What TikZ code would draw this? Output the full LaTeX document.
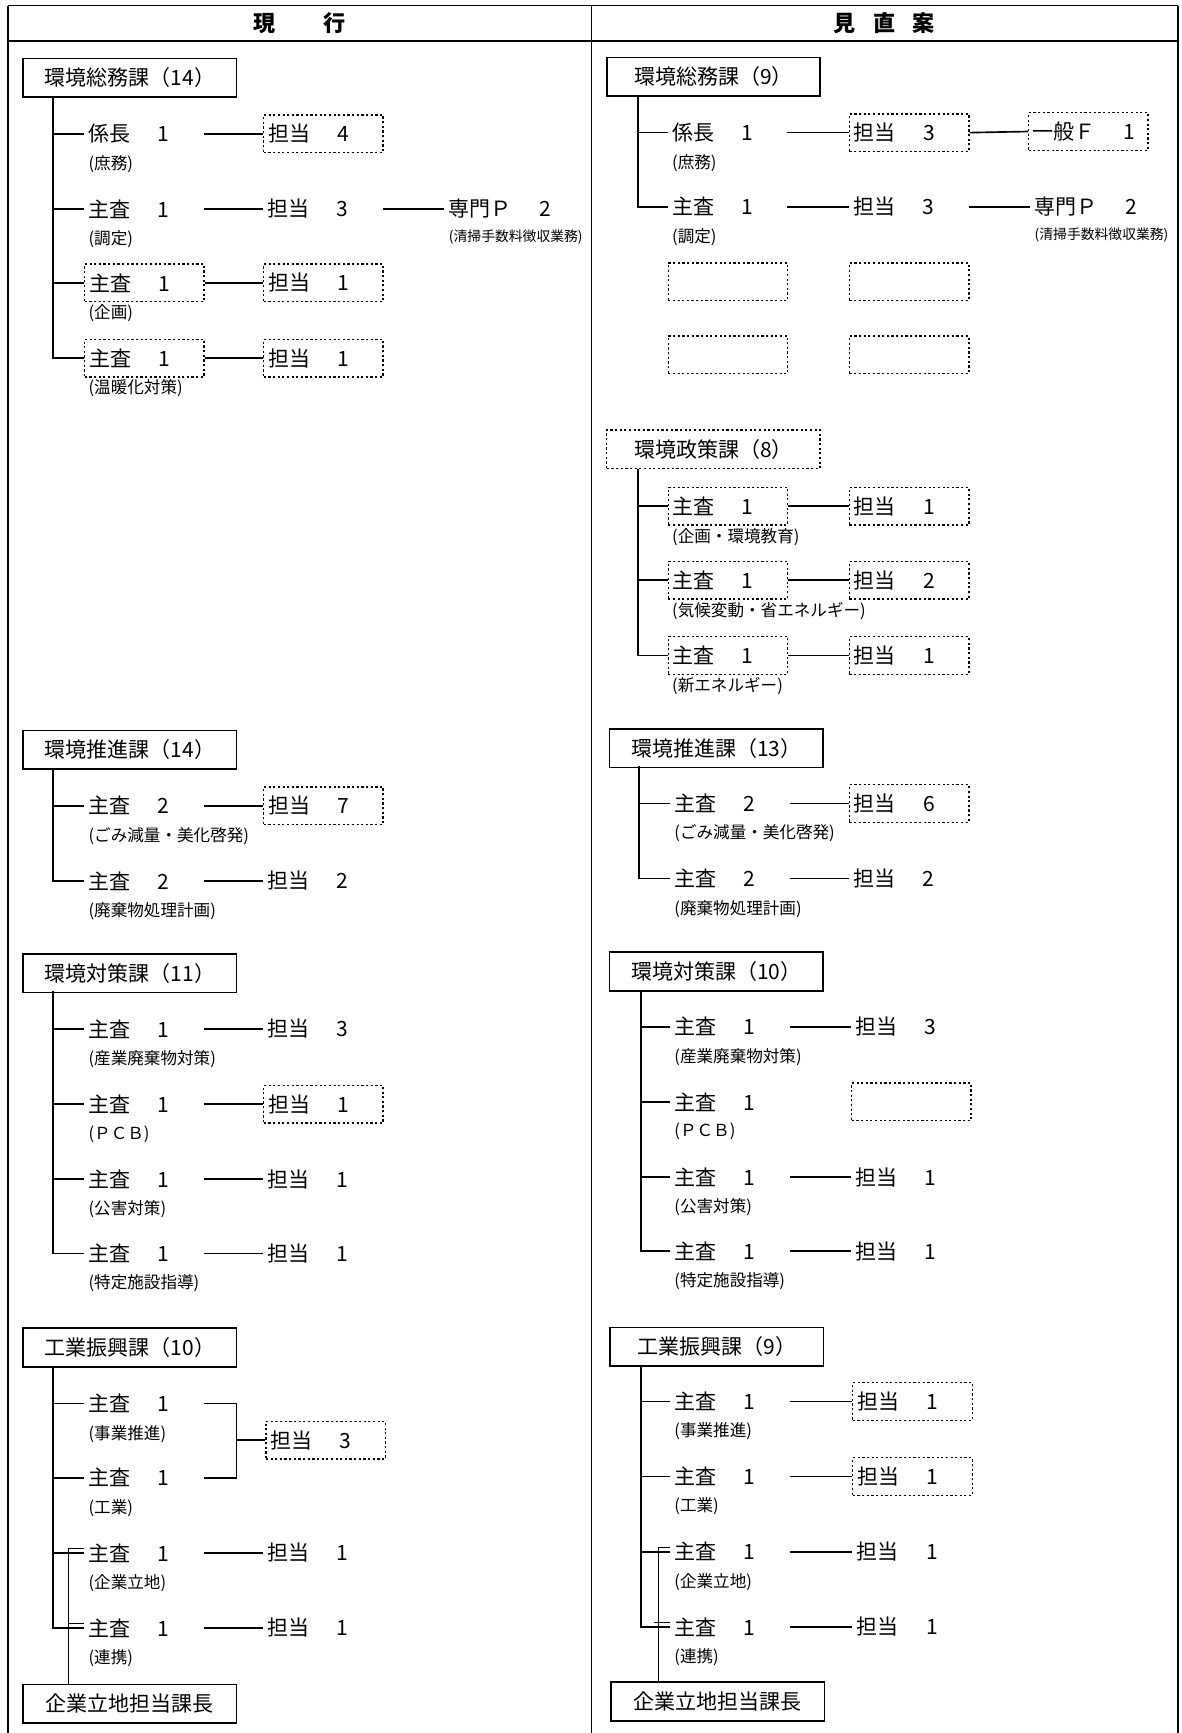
\documentclass[tikz,border=0pt]{standalone}
\usepackage{fontspec}
\setmainfont{Noto Sans CJK JP}
\newcommand\fsmain{\fontsize{19}{22}\selectfont}
\newcommand\fsnote{\fontsize{15}{17}\selectfont}
\newcommand\fstiny{\fontsize{12.5}{14}\selectfont}
\newcommand\pn[2]{#1\hspace{1.3em}#2}
\tikzset{
  ka/.style={draw, line width=1.6pt, minimum width=193pt, minimum height=35pt, inner sep=0pt, font=\fsmain},
  post/.style={anchor=west, text width=100pt, inner xsep=4pt, inner ysep=0pt, minimum height=34pt, align=left, font=\fsmain},
  dbox/.style={draw, line width=1.2pt, dash pattern=on 2pt off 2.2pt},
  note/.style={anchor=north west, inner xsep=4pt, inner ysep=2pt, font=\fsnote},
  ln/.style={line width=1.5pt},
  sub/.style={line width=0.8pt},
}
\begin{document}
\begin{tikzpicture}[x=1pt,y=-1pt]
\useasboundingbox (0,0) rectangle (1069,1568);
%枠と見出し
\draw[line width=1.4pt] (7,5) -- (1066,5);
\draw[line width=1.4pt] (7,37) -- (1066,37);
\draw[line width=1.4pt] (7,5) -- (7,1568);
\draw[line width=1.4pt] (535,5) -- (535,1568);
\draw[line width=1.4pt] (1066,5) -- (1066,1568);
\node[font=\fontsize{20}{22}\selectfont\bfseries] (h1) at (271,21) {現\hspace{2.2em}行};
\node[font=\fontsize{20}{22}\selectfont\bfseries] (h2) at (800,21) {見\hspace{0.8em}直\hspace{0.8em}案};

%現行：環境総務課
\node[ka] (L1) at (117.5,70.5) {環境総務課（14）};
\node[post] (L11) at (76,121) {\pn{係長}{1}};
\node[note] at (L11.south west) {(庶務)};
\node[post,dbox] (L1t1) at (238,121) {\pn{担当}{4}};
\node[post] (L12) at (76,189) {\pn{主査}{1}};
\node[note] at (L12.south west) {(調定)};
\node[post] (L1t2) at (238,189) {\pn{担当}{3}};
\node[post] (L1p) at (402,189) {\pn{専門Ｐ}{2}};
\node[note,font=\fstiny] at (L1p.south west) {(清掃手数料徴収業務)};
\node[post,dbox] (L13) at (76,256) {\pn{主査}{1}};
\node[note] at (L13.south west) {(企画)};
\node[post,dbox] (L1t3) at (238,256) {\pn{担当}{1}};
\node[post,dbox] (L14) at (76,324) {\pn{主査}{1}};
\node[note] at (L14.south west) {(温暖化対策)};
\node[post,dbox] (L1t4) at (238,324) {\pn{担当}{1}};
\coordinate (L1r) at (48,88);
\draw[ln] (L1r) |- (L14.west);
\foreach \n in {1,2,3} \draw[ln] (L1r |- L1\n.west) -- (L1\n.west);
\foreach \n in {1,2,3,4} \draw[ln] (L1\n.east) -- (L1t\n.west);
\draw[ln] (L1t2.east) -- (L1p.west);

%現行：環境推進課
\node[ka] (L2) at (117.5,678.5) {環境推進課（14）};
\node[post] (L21) at (76,729) {\pn{主査}{2}};
\node[note] at (L21.south west) {(ごみ減量・美化啓発)};
\node[post,dbox] (L2t1) at (238,729) {\pn{担当}{7}};
\node[post] (L22) at (76,797) {\pn{主査}{2}};
\node[note] at (L22.south west) {(廃棄物処理計画)};
\node[post] (L2t2) at (238,797) {\pn{担当}{2}};
\coordinate (L2r) at (48,695);
\draw[ln] (L2r) |- (L22.west);
\draw[ln] (L2r |- L21.west) -- (L21.west);
\foreach \n in {1,2} \draw[ln] (L2\n.east) -- (L2t\n.west);

%現行：環境対策課
\node[ka] (L3) at (117.5,880.5) {環境対策課（11）};
\foreach \n/\y/\nt/\c/\st in {1/931/産業廃棄物対策/3/, 2/999/ＰＣＢ/1/dbox, 3/1067/公害対策/1/, 4/1134/特定施設指導/1/} {
  \node[post] (L3\n) at (76,\y) {\pn{主査}{1}};
  \node[note] at (L3\n.south west) {(\nt)};
  \node[post,\st] (L3t\n) at (238,\y) {\pn{担当}{\c}};
  \draw[ln] (L3\n.east) -- (L3t\n.west);
}
\coordinate (L3r) at (48,897);
\draw[ln] (L3r) |- (L34.west);
\foreach \n in {1,2,3} \draw[ln] (L3r |- L3\n.west) -- (L3\n.west);

%現行：工業振興課
\node[ka] (L4) at (117.5,1219) {工業振興課（10）};
\node[post] (L41) at (76,1270) {\pn{主査}{1}};
\node[note] at (L41.south west) {(事業推進)};
\node[post] (L42) at (76,1337) {\pn{主査}{1}};
\node[note] at (L42.south west) {(工業)};
\node[post] (L43) at (76,1405) {\pn{主査}{1}};
\node[note] at (L43.south west) {(企業立地)};
\node[post] (L44) at (76,1473) {\pn{主査}{1}};
\node[note] at (L44.south west) {(連携)};
\node[post,dbox] (L4t1) at (240,1303) {\pn{担当}{3}};
\node[post] (L4t3) at (238,1405) {\pn{担当}{1}};
\node[post] (L4t4) at (238,1473) {\pn{担当}{1}};
\node[ka] (L4k) at (117.5,1541.5) {企業立地担当課長};
\coordinate (L4r) at (48,1236);
\coordinate (L4b) at (214,1303);
\coordinate (L4s) at (62,1524);
\draw[ln] (L4r) |- (L44.west);
\foreach \n in {1,2,3} \draw[ln] (L4r |- L4\n.west) -- (L4\n.west);
\draw[ln] (L41.east) -| (L4b) |- (L42.east);
\draw[ln] (L4b) -- (L4t1.west);
\foreach \n in {3,4} \draw[ln] (L4\n.east) -- (L4t\n.west);
\draw[sub] ([yshift=4pt]L43.west) -| (L4s);
\draw[sub] ([yshift=4pt]L44.west) -- ++(-14,0);

%見直案：環境総務課
\node[ka] (R1) at (645.5,69.5) {環境総務課（9）};
\node[post] (R11) at (604,120) {\pn{係長}{1}};
\node[note] at (R11.south west) {(庶務)};
\node[post,dbox] (R1t1) at (768,120) {\pn{担当}{3}};
\node[post,dbox] (R1f) at (930,119) {\pn{一般Ｆ}{1}};
\node[post] (R12) at (604,187) {\pn{主査}{1}};
\node[note] at (R12.south west) {(調定)};
\node[post] (R1t2) at (768,187) {\pn{担当}{3}};
\node[post] (R1p) at (932,187) {\pn{専門Ｐ}{2}};
\node[note,font=\fstiny] at (R1p.south west) {(清掃手数料徴収業務)};
\foreach \nm/\x/\y in {a/604/255, b/768/255, c/604/321, d/768/321}
  \node[post,dbox] (R1\nm) at (\x,\y) {};
\coordinate (R1r) at (577,86);
\draw[ln] (R1r) |- (R12.west);
\draw[ln] (R1r |- R11.west) -- (R11.west);
\foreach \n in {1,2} \draw[ln] (R1\n.east) -- (R1t\n.west);
\draw[ln] (R1t1.east) -- (R1f.west);
\draw[ln] (R1t2.east) -- (R1p.west);

%見直案：環境政策課
\node[ka,dbox] (R2) at (645.5,406.5) {環境政策課（8）};
\foreach \n/\y/\nt/\c in {1/458/企画・環境教育/1, 2/525/気候変動・省エネルギー/2, 3/593/新エネルギー/1} {
  \node[post,dbox] (R2\n) at (604,\y) {\pn{主査}{1}};
  \node[note] at (R2\n.south west) {(\nt)};
  \node[post,dbox] (R2t\n) at (768,\y) {\pn{担当}{\c}};
  \draw[ln] (R2\n.east) -- (R2t\n.west);
}
\coordinate (R2r) at (577,424);
\draw[ln] (R2r) |- (R23.west);
\foreach \n in {1,2} \draw[ln] (R2r |- R2\n.west) -- (R2\n.west);

%見直案：環境推進課
\node[ka] (R3) at (648,677) {環境推進課（13）};
\node[post] (R31) at (606,727) {\pn{主査}{2}};
\node[note] at (R31.south west) {(ごみ減量・美化啓発)};
\node[post,dbox] (R3t1) at (768,727) {\pn{担当}{6}};
\node[post] (R32) at (606,795) {\pn{主査}{2}};
\node[note] at (R32.south west) {(廃棄物処理計画)};
\node[post] (R3t2) at (768,795) {\pn{担当}{2}};
\coordinate (R3r) at (578,693);
\draw[ln] (R3r) |- (R32.west);
\draw[ln] (R3r |- R31.west) -- (R31.west);
\foreach \n in {1,2} \draw[ln] (R3\n.east) -- (R3t\n.west);

%見直案：環境対策課
\node[ka] (R4) at (648,879) {環境対策課（10）};
\foreach \n/\y/\nt in {1/929/産業廃棄物対策, 2/997/ＰＣＢ, 3/1065/公害対策, 4/1132/特定施設指導} {
  \node[post] (R4\n) at (606,\y) {\pn{主査}{1}};
  \node[note] at (R4\n.south west) {(\nt)};
}
\node[post] (R4t1) at (770,929) {\pn{担当}{3}};
\node[post,dbox] (R4t2) at (770,997) {};
\node[post] (R4t3) at (770,1065) {\pn{担当}{1}};
\node[post] (R4t4) at (770,1132) {\pn{担当}{1}};
\foreach \n in {1,3,4} \draw[ln] (R4\n.east) -- (R4t\n.west);
\coordinate (R4r) at (580,896);
\draw[ln] (R4r) |- (R44.west);
\foreach \n in {1,2,3} \draw[ln] (R4r |- R4\n.west) -- (R4\n.west);

%見直案：工業振興課
\node[ka] (R5) at (648.5,1218.5) {工業振興課（9）};
\foreach \n/\y/\nt in {1/1268/事業推進, 2/1336/工業, 3/1404/企業立地, 4/1472/連携} {
  \node[post] (R5\n) at (606,\y) {\pn{主査}{1}};
  \node[note] at (R5\n.south west) {(\nt)};
}
\node[post,dbox] (R5t1) at (771,1268) {\pn{担当}{1}};
\node[post,dbox] (R5t2) at (771,1336) {\pn{担当}{1}};
\node[post] (R5t3) at (771,1404) {\pn{担当}{1}};
\node[post] (R5t4) at (771,1472) {\pn{担当}{1}};
\foreach \n in {1,2,3,4} \draw[ln] (R5\n.east) -- (R5t\n.west);
\node[ka] (R5k) at (649.5,1539.5) {企業立地担当課長};
\coordinate (R5r) at (580,1236);
\coordinate (R5s) at (596,1522);
\draw[ln] (R5r) |- (R54.west);
\foreach \n in {1,2,3} \draw[ln] (R5r |- R5\n.west) -- (R5\n.west);
\draw[sub] ([yshift=4pt]R53.west) -| (R5s);
\draw[sub] ([yshift=4pt]R54.west) -- ++(-14,0);
\end{tikzpicture}
\end{document}
